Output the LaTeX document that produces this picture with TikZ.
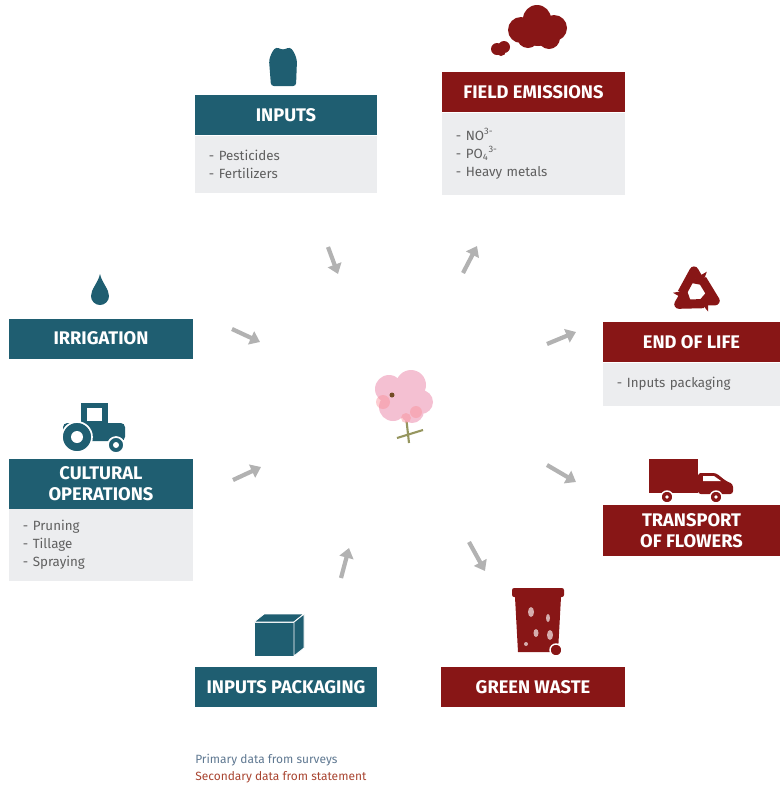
\documentclass[tikz,border=0pt]{standalone}
\usepackage{fontspec}
\setmainfont{Fira Sans}
\usetikzlibrary{positioning,arrows.meta}
\definecolor{surveyblue}{RGB}{31,94,113}
\definecolor{statementred}{RGB}{136,22,22}
\definecolor{panelgray}{RGB}{236,237,239}
\definecolor{listgray}{RGB}{95,95,95}
\definecolor{arrowgray}{RGB}{178,178,178}
\definecolor{petalpink}{RGB}{244,192,210}
\definecolor{stemgreen}{RGB}{150,150,95}
\definecolor{primarytext}{RGB}{95,120,145}
\definecolor{secondarytext}{RGB}{168,68,48}

\begin{document}
\begin{tikzpicture}[x=0.025cm,y=-0.025cm,
    head/.style={text=white,font=\bfseries\fontsize{13}{15}\selectfont,inner sep=0pt,minimum height=1cm,align=center},
    survey head/.style={head,fill=surveyblue},
    statement head/.style={head,fill=statementred},
    detail/.style={fill=panelgray,text=listgray,font=\fontsize{9.5}{12.8}\selectfont,align=left,inner xsep=0.35cm,inner ysep=0pt},
    flow/.style={color=arrowgray,line width=3pt,-{Triangle[length=7pt,width=10pt]}},
    legend/.style={anchor=west,inner sep=0pt,font=\fontsize{8.5}{11}\selectfont}
  ]
  \useasboundingbox (0,0) rectangle (780,791);

  % stage boxes
  \node[survey head,minimum width=4.55cm] (inputs) at (286,115) {INPUTS};
  \node[detail,below=0pt of inputs,text width=3.85cm,minimum height=1.43cm] (inputs-list) {- Pesticides\\- Fertilizers};

  \node[statement head,minimum width=4.575cm] (emissions) at (533.5,92) {FIELD EMISSIONS};
  \node[detail,below=0pt of emissions,text width=3.875cm,minimum height=2.05cm] (emissions-list)
    {- NO\textsuperscript{3-}\\- PO\textsubscript{4}\textsuperscript{3-}\\- Heavy metals};

  \node[survey head,minimum width=4.6cm] (irrigation) at (101,338.5) {IRRIGATION};

  \node[survey head,minimum width=4.6cm,minimum height=1.25cm] (cultural) at (101,483.5) {CULTURAL\\OPERATIONS};
  \node[detail,below=0pt of cultural,text width=3.9cm,minimum height=1.8cm] (cultural-list)
    {- Pruning\\- Tillage\\- Spraying};

  \node[statement head,minimum width=4.425cm] (endlife) at (691.5,342) {END OF LIFE};
  \node[detail,below=0pt of endlife,text width=3.725cm,minimum height=1.075cm] (endlife-list) {- Inputs packaging};

  \node[statement head,minimum width=4.425cm,minimum height=1.275cm] (transport) at (691.5,530.5) {TRANSPORT\\OF FLOWERS};

  \node[survey head,minimum width=4.55cm] (packaging) at (286,687) {INPUTS PACKAGING};
  \node[statement head,minimum width=4.575cm] (greenwaste) at (533,687) {GREEN WASTE};

  % legend
  \node[legend,text=primarytext] (primary) at (195,760) {Primary data from surveys};
  \node[legend,text=secondarytext] (secondary) at (195,777) {Secondary data from statement};

  % icons
  \fill[surveyblue,rounded corners=2pt] (271,86) -- (269,60) -- (272,52) -- (276,47) -- (283,50)
    -- (290,47) -- (294,52) -- (297,60) -- (296,86) -- cycle; % bag
  \fill[surveyblue] (100,274) .. controls (102,283) and (109,289) .. (109,296)
    .. controls (109,301) and (105,305) .. (100,305) .. controls (95,305) and (91,301) .. (91,296)
    .. controls (91,289) and (98,283) .. (100,274) -- cycle; % drop

  % tractor
  \fill[surveyblue] (81,403) rectangle (108,426);
  \fill[white] (87,408) rectangle (102,421);
  \fill[surveyblue,rounded corners=3pt] (63,423) rectangle (125,441);
  \filldraw[surveyblue,draw=white,line width=1.2pt] (77,437) circle[radius=15];
  \fill[white] (77,437) circle[radius=6];
  \filldraw[surveyblue,draw=white,line width=1.2pt] (116,445) circle[radius=8];
  \fill[white] (116,445) circle[radius=3];

  % cube
  \filldraw[surveyblue,draw=white,line width=0.6pt] (254,622) rectangle (294,656);
  \filldraw[surveyblue,draw=white,line width=0.6pt] (254,622) -- (264,614) -- (304,614) -- (294,622) -- cycle;
  \filldraw[surveyblue,draw=white,line width=0.6pt] (294,622) -- (304,614) -- (304,648) -- (294,656) -- cycle;

  % cloud
  \fill[statementred] (521,30) circle[radius=13] (537,19) circle[radius=14] (554,28) circle[radius=13]
    (528,37) circle[radius=11] (549,38) circle[radius=11] (538,32) circle[radius=14];
  \fill[statementred] (497,49) circle[radius=6] (504,47) circle[radius=6] (501,51) circle[radius=5];

  % recycling arrows
  \foreach \a in {0,120,240}
    \draw[statementred,line width=6.5pt,line join=round,rotate around={\a:(696,292)},
      -{Triangle[length=6.5pt,width=15pt]}] (682,293) -- (694,271) -- (702,285);

  % truck
  \fill[statementred] (649,459) rectangle (698,493);
  \fill[statementred,rounded corners=2pt] (698,473) -- (716,473) -- (726,481) -- (733,484) -- (733,494) -- (698,494) -- cycle;
  \fill[white] (703,476) -- (714,476) -- (721,481) -- (703,481) -- cycle;
  \filldraw[statementred,draw=white,line width=1pt] (667,497) circle[radius=6] (716,497) circle[radius=6];
  \fill[white] (667,497) circle[radius=1.8] (716,497) circle[radius=1.8];

  % bin
  \fill[statementred,rounded corners=1.5pt] (512,588) rectangle (564,597);
  \fill[statementred] (515,597) -- (561,597) -- (558,652) -- (518,652) -- cycle;
  \filldraw[statementred,draw=white,line width=1pt] (556,650) circle[radius=6];
  \fill[statementred!35!white] (531,612) ellipse[x radius=3,y radius=5] (548,618) ellipse[x radius=2,y radius=4]
    (536,633) ellipse[x radius=2.5,y radius=4] (526,644) circle[radius=2] (550,635) ellipse[x radius=3,y radius=5];

  % rose
  \coordinate (rose) at (400,400);
  \draw[stemgreen,line width=1.5pt] (406,416) -- (409,443);
  \draw[stemgreen,line width=1.5pt] (397,438) -- (423,430);
  \fill[petalpink] (389,389) circle[radius=14] (411,385) circle[radius=15] (421,402) circle[radius=12]
    (393,407) circle[radius=14] (412,411) circle[radius=12] (402,396) circle[radius=15];
  \fill[petalpink!60!red!80!white,opacity=0.45] (383,402) circle[radius=7] (416,412) circle[radius=6] (406,418) circle[radius=5];
  \fill[brown!60!black] (392,395) circle[radius=2.5];

  % arrows towards and away from the crop
  \coordinate (inputs-tail) at (328,247);     \coordinate (inputs-tip) at (338,274);
  \coordinate (emissions-tail) at (463,273);  \coordinate (emissions-tip) at (477,246);
  \coordinate (irrigation-tail) at (232,329); \coordinate (irrigation-tip) at (260,342);
  \coordinate (cultural-tail) at (233,480);   \coordinate (cultural-tip) at (261,467);
  \coordinate (endlife-tail) at (547,344);    \coordinate (endlife-tip) at (576,332);
  \coordinate (transport-tail) at (547,465);  \coordinate (transport-tip) at (576,482);
  \coordinate (packaging-tail) at (341,578);  \coordinate (packaging-tip) at (349,548);
  \coordinate (greenwaste-tail) at (469,542); \coordinate (greenwaste-tip) at (485,571);

  \path[flow]
    (inputs-tail) edge (inputs-tip)
    (emissions-tail) edge (emissions-tip)
    (irrigation-tail) edge (irrigation-tip)
    (cultural-tail) edge (cultural-tip)
    (endlife-tail) edge (endlife-tip)
    (transport-tail) edge (transport-tip)
    (packaging-tail) edge (packaging-tip)
    (greenwaste-tail) edge (greenwaste-tip);
\end{tikzpicture}
\end{document}
